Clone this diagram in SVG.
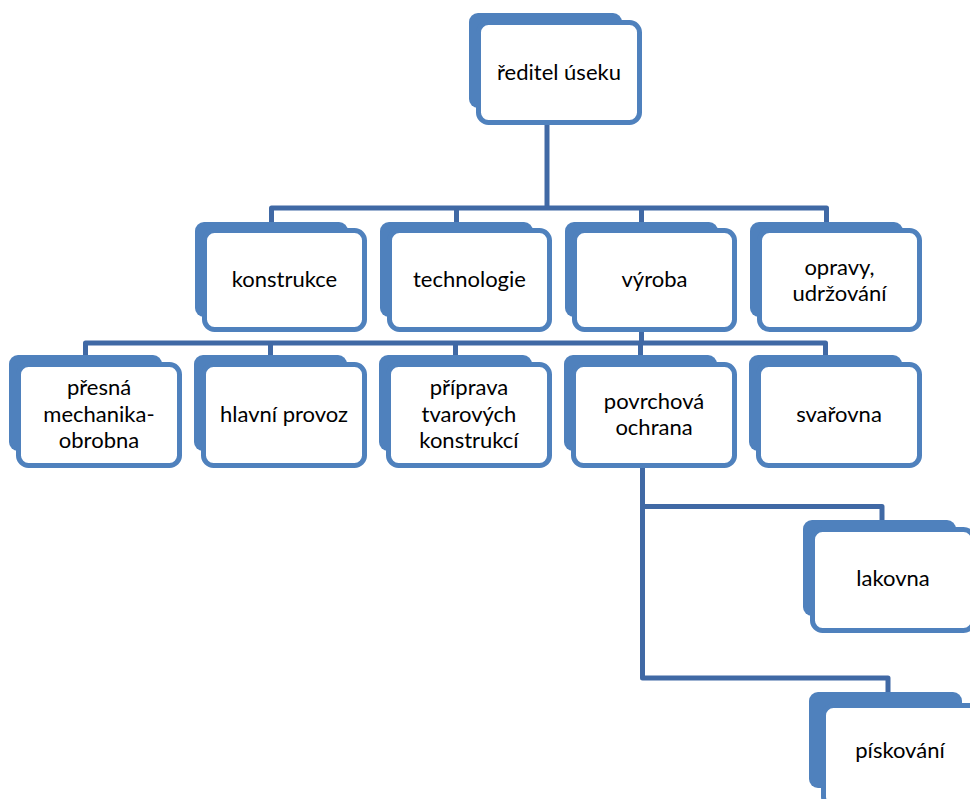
<svg xmlns="http://www.w3.org/2000/svg" width="970" height="799" viewBox="0 0 970 799">
<style>
.back{fill:#4f81bd;}
.front{fill:#ffffff;stroke:#4f81bd;stroke-width:5;}
.conn{fill:none;stroke:#4069a5;stroke-width:5;stroke-linejoin:round;}
text{font-family:Lato,"Liberation Sans",sans-serif;font-size:22px;fill:#000;text-anchor:middle;}
</style>
<rect width="970" height="799" fill="#ffffff"/>
<g id="connectors">
<path class="conn" d="M547,125 V208"/>
<path class="conn" d="M271.5,222 V208 H826.5 V222 M456.5,208 V222 M641.5,208 V222"/>
<path class="conn" d="M641.5,332 V343"/>
<path class="conn" d="M85.5,355 V343 H825.5 V355 M270.5,343 V355 M455.5,343 V355 M640.5,343 V355"/>
<path class="conn" d="M642.5,468 V678 H888 V692 M642.5,506.5 H882 V520"/>
</g>
<g id="n-reditel">
<rect class="back" x="469" y="13" width="153" height="95" rx="9"/>
<rect class="front" x="478.5" y="22.5" width="161" height="100" rx="10"/>
<text x="559" y="79.5">ředitel úseku</text>
</g>
<g id="n-konstrukce">
<rect class="back" x="195" y="222" width="153" height="95" rx="9"/>
<rect class="front" x="204.5" y="230.5" width="160" height="99" rx="10"/>
<text x="284.5" y="287">konstrukce</text>
</g>
<g id="n-technologie">
<rect class="back" x="380" y="222" width="153" height="95" rx="9"/>
<rect class="front" x="389.5" y="230.5" width="160" height="99" rx="10"/>
<text x="469.5" y="287">technologie</text>
</g>
<g id="n-vyroba">
<rect class="back" x="565" y="222" width="153" height="95" rx="9"/>
<rect class="front" x="574.5" y="230.5" width="160" height="99" rx="10"/>
<text x="654.5" y="287">výroba</text>
</g>
<g id="n-opravy">
<rect class="back" x="750" y="222" width="153" height="95" rx="9"/>
<rect class="front" x="759.5" y="230.5" width="160" height="99" rx="10"/>
<text x="839.5" y="275">opravy,</text>
<text x="839.5" y="301">udržování</text>
</g>
<g id="n-presna">
<rect class="back" x="9" y="355" width="153" height="96" rx="9"/>
<rect class="front" x="18.5" y="364.5" width="161" height="101" rx="10"/>
<text x="99" y="395">přesná</text>
<text x="99" y="421.5">mechanika-</text>
<text x="99" y="448">obrobna</text>
</g>
<g id="n-hlavni">
<rect class="back" x="194" y="355" width="153" height="96" rx="9"/>
<rect class="front" x="203.5" y="364.5" width="161" height="101" rx="10"/>
<text x="284" y="422">hlavní provoz</text>
</g>
<g id="n-priprava">
<rect class="back" x="379" y="355" width="153" height="96" rx="9"/>
<rect class="front" x="388.5" y="364.5" width="161" height="101" rx="10"/>
<text x="469" y="395">příprava</text>
<text x="469" y="421.5">tvarových</text>
<text x="469" y="448">konstrukcí</text>
</g>
<g id="n-povrchova">
<rect class="back" x="564" y="355" width="153" height="96" rx="9"/>
<rect class="front" x="573.5" y="364.5" width="161" height="101" rx="10"/>
<text x="654" y="409">povrchová</text>
<text x="654" y="435">ochrana</text>
</g>
<g id="n-svarovna">
<rect class="back" x="749" y="355" width="153" height="96" rx="9"/>
<rect class="front" x="758.5" y="364.5" width="161" height="101" rx="10"/>
<text x="839" y="422">svařovna</text>
</g>
<g id="n-lakovna">
<rect class="back" x="803" y="520" width="153" height="96" rx="9"/>
<rect class="front" x="812.5" y="529.5" width="161" height="101" rx="10"/>
<text x="893" y="586">lakovna</text>
</g>
<g id="n-piskovani">
<rect class="back" x="809" y="692" width="153" height="96" rx="9"/>
<rect class="front" x="823.5" y="705.5" width="161" height="101" rx="10"/>
<text x="900" y="758">pískování</text>
</g>
</svg>
